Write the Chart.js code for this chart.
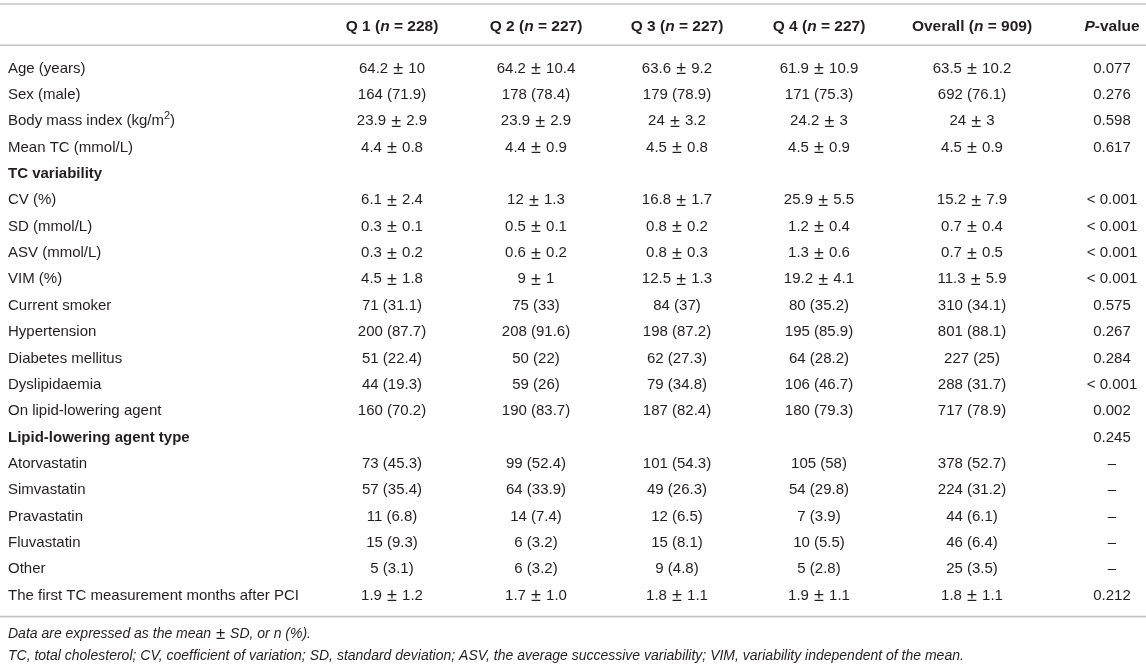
<!DOCTYPE html>
<html>
<head>
<meta charset="utf-8">
<script src="https://cdn.jsdelivr.net/npm/chart.js@4.4.1/dist/chart.umd.min.js"></script>
<style>
  html, body { margin: 0; padding: 0; background: #ffffff; }
  #wrap { width: 1146px; height: 666px; }
</style>
</head>
<body>
<div id="wrap"><canvas id="table" width="1146" height="666"></canvas></div>
<script>
// ---- table data ----
const rowLabels = [
  "Age (years)", "Sex (male)", "Body mass index (kg/m^{2})", "Mean TC (mmol/L)",
  "TC variability", "CV (%)", "SD (mmol/L)", "ASV (mmol/L)", "VIM (%)",
  "Current smoker", "Hypertension", "Diabetes mellitus", "Dyslipidaemia",
  "On lipid-lowering agent", "Lipid-lowering agent type", "Atorvastatin",
  "Simvastatin", "Pravastatin", "Fluvastatin", "Other",
  "The first TC measurement months after PCI"
];
const sectionRows = ["TC variability", "Lipid-lowering agent type"];
const columnHeaders = ["", "Q 1 (*n* = 228)", "Q 2 (*n* = 227)", "Q 3 (*n* = 227)",
  "Q 4 (*n* = 227)", "Overall (*n* = 909)", "*P*-value"];

const q1 = ["64.2 ± 10", "164 (71.9)", "23.9 ± 2.9", "4.4 ± 0.8", "", "6.1 ± 2.4", "0.3 ± 0.1",
  "0.3 ± 0.2", "4.5 ± 1.8", "71 (31.1)", "200 (87.7)", "51 (22.4)", "44 (19.3)", "160 (70.2)", "",
  "73 (45.3)", "57 (35.4)", "11 (6.8)", "15 (9.3)", "5 (3.1)", "1.9 ± 1.2"];
const q2 = ["64.2 ± 10.4", "178 (78.4)", "23.9 ± 2.9", "4.4 ± 0.9", "", "12 ± 1.3", "0.5 ± 0.1",
  "0.6 ± 0.2", "9 ± 1", "75 (33)", "208 (91.6)", "50 (22)", "59 (26)", "190 (83.7)", "",
  "99 (52.4)", "64 (33.9)", "14 (7.4)", "6 (3.2)", "6 (3.2)", "1.7 ± 1.0"];
const q3 = ["63.6 ± 9.2", "179 (78.9)", "24 ± 3.2", "4.5 ± 0.8", "", "16.8 ± 1.7", "0.8 ± 0.2",
  "0.8 ± 0.3", "12.5 ± 1.3", "84 (37)", "198 (87.2)", "62 (27.3)", "79 (34.8)", "187 (82.4)", "",
  "101 (54.3)", "49 (26.3)", "12 (6.5)", "15 (8.1)", "9 (4.8)", "1.8 ± 1.1"];
const q4 = ["61.9 ± 10.9", "171 (75.3)", "24.2 ± 3", "4.5 ± 0.9", "", "25.9 ± 5.5", "1.2 ± 0.4",
  "1.3 ± 0.6", "19.2 ± 4.1", "80 (35.2)", "195 (85.9)", "64 (28.2)", "106 (46.7)", "180 (79.3)", "",
  "105 (58)", "54 (29.8)", "7 (3.9)", "10 (5.5)", "5 (2.8)", "1.9 ± 1.1"];
const overall = ["63.5 ± 10.2", "692 (76.1)", "24 ± 3", "4.5 ± 0.9", "", "15.2 ± 7.9", "0.7 ± 0.4",
  "0.7 ± 0.5", "11.3 ± 5.9", "310 (34.1)", "801 (88.1)", "227 (25)", "288 (31.7)", "717 (78.9)", "",
  "378 (52.7)", "224 (31.2)", "44 (6.1)", "46 (6.4)", "25 (3.5)", "1.8 ± 1.1"];
const pValues = ["0.077", "0.276", "0.598", "0.617", "", "< 0.001", "< 0.001", "< 0.001", "< 0.001",
  "0.575", "0.267", "0.284", "< 0.001", "0.002", "0.245", "–", "–", "–", "–", "–", "0.212"];
const footnotes = [
  "Data are expressed as the mean ± SD, or n (%).",
  "TC, total cholesterol; CV, coefficient of variation; SD, standard deviation; ASV, the average successive variability; VIM, variability independent of the mean."
];

// ---- layout (x in table pixels, y in row units) ----
const colX = [8, 392, 536, 677, 819, 972, 1112];
const headerY = -1.6;
const ruleY = [-2.45, -0.88, 20.8];
const footY = [21.46, 22.3];
const FAMILY = '"Liberation Sans", Arial, Helvetica, sans-serif';
const INK = '#231f20';

const bodyCols = [rowLabels, q1, q2, q3, q4, overall, pValues];

// ---- rich text: *italic*, ^{superscript}; ± drawn a touch larger like the source ----
function parseRich(text) {
  const segs = [];
  const re = /\*([^*]+)\*|\^\{([^}]+)\}|(±)|([^*^±]+)/g;
  let m;
  while ((m = re.exec(text)) !== null) {
    if (m[1]) segs.push({ t: m[1], italic: true });
    else if (m[2]) segs.push({ t: m[2], sup: true });
    else if (m[3]) segs.push({ t: m[3], big: true, pad: 1 });
    else segs.push({ t: m[4] });
  }
  return segs;
}
function fontFor(seg, base) {
  let size = base.size;
  if (seg.sup) size = Math.round(base.size * 0.7);
  if (seg.big) size = base.size * 1.2;
  const style = (seg.italic || base.italic) ? 'italic ' : '';
  const weight = base.bold ? 'bold ' : '';
  return style + weight + size + 'px ' + FAMILY;
}
function drawRich(ctx, text, x, y, align, base) {
  const segs = parseRich(text);
  let total = 0;
  segs.forEach(s => {
    ctx.font = fontFor(s, base);
    s.w = ctx.measureText(s.t).width + 2 * (s.pad || 0);
    total += s.w;
  });
  let cx = align === 'center' ? x - total / 2 : x;
  ctx.textBaseline = 'middle';
  ctx.textAlign = 'left';
  ctx.fillStyle = INK;
  segs.forEach(s => {
    ctx.font = fontFor(s, base);
    let ty = y;
    if (s.sup) ty = y - base.size * 0.35;
    if (s.big) ty = y + base.size * 0.05;
    ctx.fillText(s.t, cx + (s.pad || 0), ty);
    cx += s.w;
  });
}

const cellTextPlugin = {
  id: 'cellText',
  afterDatasetsDraw(chart) {
    const ctx = chart.ctx;
    ctx.save();
    chart.data.datasets.forEach((ds, di) => {
      if (!ds.cellText) return;
      const meta = chart.getDatasetMeta(di);
      meta.data.forEach((pt, i) => {
        const txt = ds.cellText[i];
        if (!txt) return;
        const base = Object.assign({}, ds.cellFont, { bold: ds.cellFont.bold || (ds.cellBold && ds.cellBold[i]) });
        drawRich(ctx, txt, pt.x, pt.y, ds.cellAlign, base);
      });
    });
    ctx.restore();
  }
};

const datasets = [];

// horizontal rules
ruleY.forEach(r => {
  datasets.push({
    data: [{ x: 0, y: r }, { x: 1146, y: r }],
    showLine: true, borderColor: '#c4c4c4', borderWidth: 1.6, pointRadius: 0
  });
});

// header row
datasets.push({
  data: columnHeaders.map((h, c) => ({ x: colX[c], y: headerY })),
  cellText: columnHeaders, cellAlign: 'center',
  cellFont: { size: 15.5, bold: true }, pointRadius: 0
});

// body columns
bodyCols.forEach((col, c) => {
  datasets.push({
    data: col.map((v, r) => ({ x: colX[c], y: r })),
    cellText: col,
    cellAlign: c === 0 ? 'left' : 'center',
    cellBold: c === 0 ? col.map(l => sectionRows.includes(l)) : null,
    cellFont: { size: 15 }, pointRadius: 0
  });
});

// footnotes
datasets.push({
  data: footnotes.map((f, i) => ({ x: colX[0], y: footY[i] })),
  cellText: footnotes, cellAlign: 'left',
  cellFont: { size: 14, italic: true }, pointRadius: 0
});

new Chart(document.getElementById('table'), {
  type: 'scatter',
  data: { datasets },
  options: {
    responsive: false,
    animation: false,
    layout: { padding: 0 },
    events: [],
    plugins: { legend: { display: false }, tooltip: { enabled: false } },
    scales: {
      x: { type: 'linear', min: 0, max: 1146, display: false },
      y: { type: 'linear', min: -2.6, max: 22.675, reverse: true, display: false }
    }
  },
  plugins: [cellTextPlugin]
});
</script>
</body>
</html>
